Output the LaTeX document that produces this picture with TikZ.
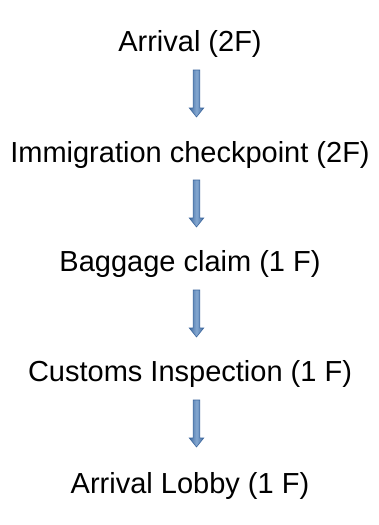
\documentclass[tikz,border=0pt]{standalone}
\usepackage{fontspec}
\setmainfont{Liberation Sans}
\usetikzlibrary{calc}
\definecolor{arrfill}{HTML}{4F81BD}
\definecolor{arredge}{HTML}{3A659C}
\begin{document}
\begin{tikzpicture}[x=1pt,y=-1pt]
\useasboundingbox[fill=white] (0,0) rectangle (378,525);
\tikzset{
  lbl/.style={font=\fontsize{29}{34}\selectfont, anchor=base, inner sep=0pt},
  blockarr/.pic={
    \shade[left color=arrfill!85!black, right color=arrfill!85!black,
           middle color=arrfill!70!white, draw=arredge, line width=0.6pt]
      (-3.4,0) -- (3.4,0) -- (3.4,38) -- (7.2,38) -- (0,47) -- (-7.2,38) -- (-3.4,38) -- cycle;
  }
}
\node[lbl] (n1) at (190,51) {Arrival (2F)};
\node[lbl] (n2) at (190,162) {Immigration checkpoint (2F)};
\node[lbl] (n3) at (190,271) {Baggage claim (1 F)};
\node[lbl] (n4) at (190,381) {Customs Inspection (1 F)};
\node[lbl] (n5) at (190,493) {Arrival Lobby (1 F)};
\pic at ($(n1.base)+(6.5,19)$) {blockarr};
\pic at ($(n2.base)+(6.5,18)$) {blockarr};
\pic at ($(n3.base)+(6.5,19)$) {blockarr};
\pic at ($(n4.base)+(6.5,19)$) {blockarr};
\end{tikzpicture}
\end{document}
